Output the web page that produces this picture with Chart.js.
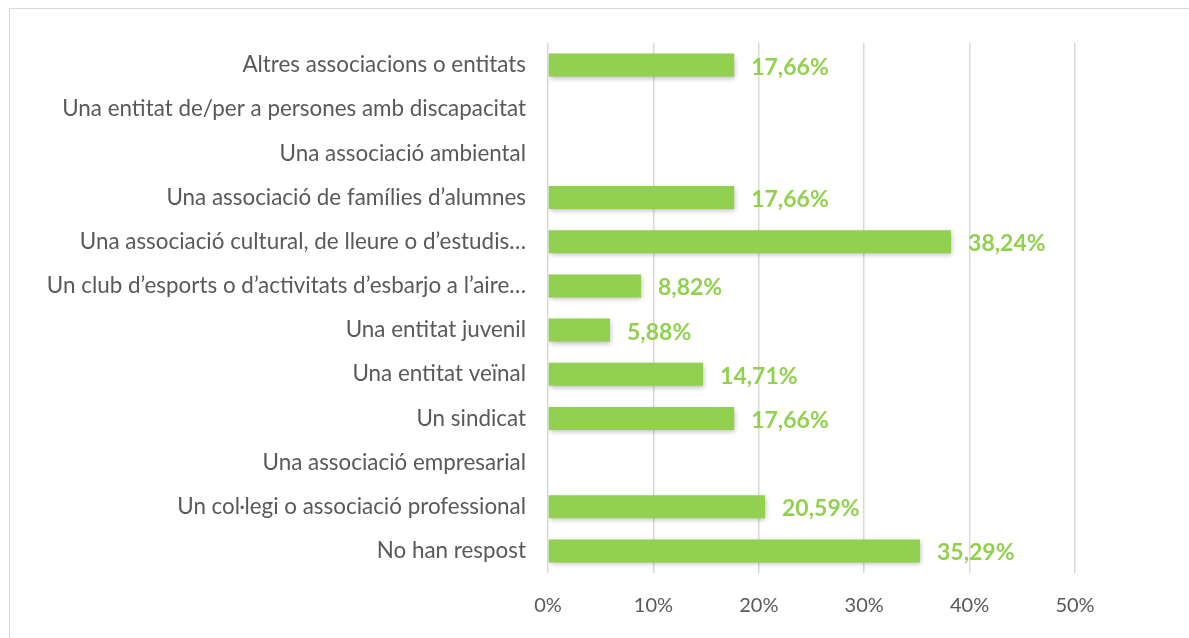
<!DOCTYPE html>
<html>
<head>
<meta charset="utf-8">
<script src="https://cdn.jsdelivr.net/npm/chart.js@4"></script>
<style>
  body { margin: 0; background: #fff; overflow: hidden; }
  #wrap { position: relative; width: 1189px; height: 638px; }
  #frame { position: absolute; left: 9px; top: 8px; width: 1200px; height: 660px; border: 1px solid #d9d9d9; }
  canvas { position: absolute; left: 0; top: 0; }
</style>
</head>
<body>
<div id="wrap">
  <div id="frame"></div>
  <canvas id="chart" width="1189" height="638"></canvas>
</div>
<script>
var categories = [
  "Altres associacions o entitats",
  "Una entitat de/per a persones amb discapacitat",
  "Una associació ambiental",
  "Una associació de famílies d\u2019alumnes",
  "Una associació cultural, de lleure o d\u2019estudis\u2026",
  "Un club d\u2019esports o d\u2019activitats d\u2019esbarjo a l\u2019aire\u2026",
  "Una entitat juvenil",
  "Una entitat veïnal",
  "Un sindicat",
  "Una associació empresarial",
  "Un col·legi o associació professional",
  "No han respost"
];
var values = [17.66, 0, 0, 17.66, 38.24, 8.82, 5.88, 14.71, 17.66, 0, 20.59, 35.29];
var xTicks = [0, 10, 20, 30, 40, 50];

var green = "#92d050";
var textGray = "#595959";
var fontFamily = "Lato, 'Open Sans', sans-serif";

function fmt(v) {
  return v.toFixed(2).replace(".", ",") + "%";
}

// soft shadow under the bars, like the office chart
var barShadow = {
  id: "barShadow",
  beforeDatasetDraw: function (chart) {
    var ctx = chart.ctx;
    ctx.save();
    ctx.shadowColor = "rgba(0,0,0,0.28)";
    ctx.shadowBlur = 5;
    ctx.shadowOffsetX = 1;
    ctx.shadowOffsetY = 2;
  },
  afterDatasetDraw: function (chart) {
    chart.ctx.restore();
  }
};

var valueLabels = {
  id: "valueLabels",
  afterDatasetsDraw: function (chart) {
    var ctx = chart.ctx;
    var meta = chart.getDatasetMeta(0);
    ctx.save();
    ctx.font = "bold 23px " + fontFamily;
    ctx.fillStyle = green;
    ctx.textAlign = "left";
    ctx.textBaseline = "middle";
    meta.data.forEach(function (bar, i) {
      var v = values[i];
      if (!v) return;
      ctx.fillText(fmt(v), bar.x + 17, bar.y + 2);
    });
    ctx.restore();
  }
};

new Chart(document.getElementById("chart").getContext("2d"), {
  type: "bar",
  data: {
    labels: categories,
    datasets: [{
      data: values,
      backgroundColor: green,
      borderWidth: 0,
      barPercentage: 0.52,
      categoryPercentage: 1
    }]
  },
  options: {
    indexAxis: "y",
    responsive: false,
    animation: false,
    layout: { padding: { top: 43, right: 114, left: 0, bottom: 0 } },
    plugins: { legend: { display: false }, tooltip: { enabled: false } },
    scales: {
      x: {
        min: 0,
        max: 50,
        afterBuildTicks: function (scale) {
          scale.ticks = xTicks.map(function (v) { return { value: v }; });
        },
        afterFit: function (scale) { scale.height = 65; },
        grid: { color: "#d9d9d9", lineWidth: 1.5, drawTicks: false },
        border: { display: false },
        ticks: {
          color: textGray,
          padding: 21,
          font: { family: fontFamily, size: 20 },
          callback: function (v) { return v + "%"; }
        }
      },
      y: {
        afterFit: function (scale) { scale.width = 548; },
        grid: { display: false, drawTicks: false },
        border: { display: false },
        ticks: {
          color: textGray,
          padding: 22,
          font: { family: fontFamily, size: 22.4 }
        }
      }
    }
  },
  plugins: [barShadow, valueLabels]
});
</script>
</body>
</html>
